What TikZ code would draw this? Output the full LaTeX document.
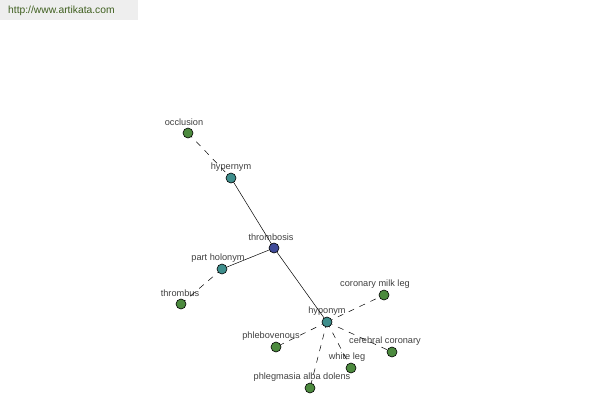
\documentclass[tikz,border=0pt]{standalone}
\usepackage{fontspec}
\setmainfont{Liberation Sans}
\begin{document}
\begin{tikzpicture}[x=1pt,y=-1pt,
  dot/.style={circle,draw=black,line width=0.6pt,minimum size=10pt,inner sep=0pt},
  leaf/.style={dot,fill=leafc},
  rel/.style={dot,fill=relc},
  root/.style={dot,fill=rootc},
  lbl/.style={text=labc,font=\fontsize{9.2}{10}\selectfont,inner sep=0pt},
  sol/.style={draw=black,line width=0.5pt},
  dsh/.style={draw=black,line width=0.5pt,dash pattern=on 6pt off 6pt}]
\definecolor{leafc}{HTML}{4C8A3E}
\definecolor{relc}{HTML}{3E8E8C}
\definecolor{rootc}{HTML}{3F4A98}
\definecolor{labc}{HTML}{404040}
\definecolor{hdrbg}{HTML}{EEEEEE}
\definecolor{hdrtx}{HTML}{3F5F1F}
\useasboundingbox (0,0) rectangle (600,400);
\fill[hdrbg] (0,0) rectangle (138,20);
\node[anchor=west,inner sep=0pt,text=hdrtx,font=\fontsize{10.3}{12}\selectfont] (hdr) at (8,11) {http://www.artikata.com};
% nodes
\coordinate (occ) at (188,133);
\coordinate (hyper) at (231,178);
\coordinate (thr) at (274,248);
\coordinate (ph) at (222,269);
\coordinate (thb) at (181,304);
\coordinate (hypo) at (327,322);
\coordinate (cml) at (384,295);
\coordinate (phl) at (276,347);
\coordinate (cc) at (392,352);
\coordinate (wl) at (351,368);
\coordinate (pad) at (310,388);
% labels
\node[lbl] (locc) at (184,122) {occlusion};
\node[lbl] (lhyper) at (231,167) {hypernym};
\node[lbl] (lthr) at (271,237) {thrombosis};
\node[lbl] (lph) at (218,258) {part holonym};
\node[lbl] (lthb) at (180,293) {thrombus};
\node[lbl] (lhypo) at (327,311) {hyponym};
\node[lbl] (lcml) at (375,284) {coronary milk leg};
\node[lbl] (lphl) at (271,336) {phlebovenous};
\node[lbl] (lcc) at (385,341) {cerebral coronary};
\node[lbl] (lwl) at (347,357) {white leg};
\node[lbl] (lpad) at (302,377) {phlegmasia alba dolens};
% edges
\draw[dsh] (occ) -- (hyper);
\draw[sol] (hyper) -- (thr);
\draw[sol] (thr) -- (ph);
\draw[dsh] (ph) -- (thb);
\draw[sol] (thr) -- (hypo);
\draw[dsh] (hypo) -- (cml);
\draw[dsh] (hypo) -- (phl);
\draw[dsh] (hypo) -- (cc);
\draw[dsh] (hypo) -- (wl);
\draw[dsh] (hypo) -- (pad);
% dots
\node[leaf] (nocc) at (occ) {};
\node[rel] (nhyper) at (hyper) {};
\node[root] (nthr) at (thr) {};
\node[rel] (nph) at (ph) {};
\node[leaf] (nthb) at (thb) {};
\node[rel] (nhypo) at (hypo) {};
\node[leaf] (ncml) at (cml) {};
\node[leaf] (nphl) at (phl) {};
\node[leaf] (ncc) at (cc) {};
\node[leaf] (nwl) at (wl) {};
\node[leaf] (npad) at (pad) {};
\end{tikzpicture}
\end{document}
